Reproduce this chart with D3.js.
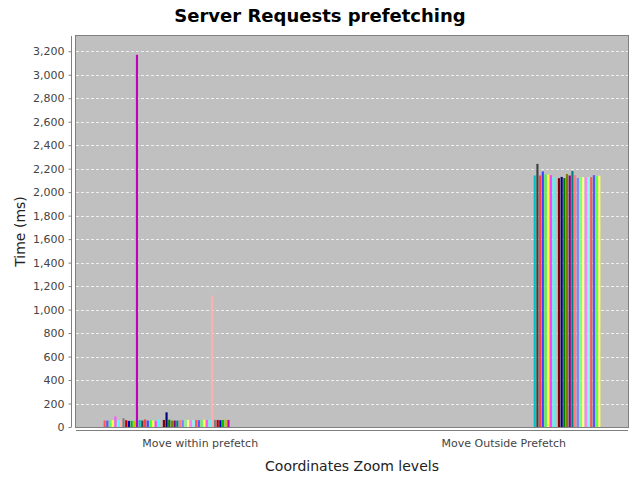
<!DOCTYPE html>
<html><head><meta charset="utf-8">
<script src="https://cdn.jsdelivr.net/npm/d3@7"></script>
<style>body{margin:0;background:#fff;}svg{display:block;}</style>
</head><body>
<svg id="chart" width="640" height="480"></svg>
<script>
const title = "Server Requests prefetching";
const yLabel = "Time (ms)";
const xLabel = "Coordinates Zoom levels";
const categories = ["Move within prefetch", "Move Outside Prefetch"];
const seriesNames = d3.range(72).map(i => "Run " + (i + 1));
// values for category 1 (series 0..46), category 2 (series 47..71)
const withinPrefetch = [55,55,55,58,90,58,60,75,58,52,52,50,3170,60,55,65,55,58,55,52,65,55,60,125,62,55,55,55,58,58,62,60,55,60,60,58,60,62,60,62,1120,60,60,58,60,62,60,
  null,null,null,null,null,null,null,null,null,null,null,null,null,null,null,null,null,null,null,null,null,null,null,null,null];
const outsidePrefetch = [null,null,null,null,null,null,null,null,null,null,null,null,null,null,null,null,null,null,null,null,null,null,null,null,null,null,null,null,null,null,null,null,null,null,null,null,null,null,null,null,null,null,null,null,null,null,null,
  2142,2241,2142,2176,2150,2150,2145,2130,2130,2119,2130,2120,2155,2142,2180,2145,2120,2128,2128,2128,2130,2128,2145,2135,2140];
const yTicks = [0,200,400,600,800,1000,1200,1400,1600,1800,2000,2200,2400,2600,2800,3000,3200];
const palette = ["#ff5555","#5555ff","#55ff55","#ffff55","#ff55ff","#55ffff","#ffafaf","#808080",
  "#c00000","#0000c0","#00c000","#c0c000","#c000c0","#00c0c0","#404040",
  "#ff4040","#4040ff","#40ff40","#ffff40","#ff40ff","#40ffff","#c0c0c0",
  "#800000","#000080","#008000","#808000","#800080","#008080",
  "#ff8080","#8080ff","#80ff80","#ffff80","#ff80ff","#80ffff"];

const svg = d3.select("#chart");
const L = 76, R = 628, T = 36, B = 427;
const W = R - L;
const font = "'DejaVu Sans', Verdana, sans-serif";

svg.append("text").attr("x", 320).attr("y", 22).attr("text-anchor", "middle")
  .style("font-family", font).style("font-weight", "bold").style("font-size", "18px").attr("fill", "#000").text(title);

svg.append("rect").attr("x", L).attr("y", T).attr("width", W).attr("height", B - T)
  .attr("fill", "#c0c0c0");

const y = d3.scaleLinear().domain([0, 3330]).range([B, T]);
const x0 = d3.scaleBand().domain(categories).range([L + 0.05 * W, R - 0.05 * W]).paddingInner(0.2 / 0.55).paddingOuter(0);
const x1 = d3.scaleBand().domain(d3.range(seriesNames.length)).range([0, x0.bandwidth()]).paddingInner(0.2).paddingOuter(0);

// gridlines
svg.append("g").selectAll("line").data(yTicks.slice(1)).join("line")
  .attr("x1", L).attr("x2", R).attr("y1", d => Math.round(y(d)) + 0.5).attr("y2", d => Math.round(y(d)) + 0.5)
  .attr("stroke", "#ffffff").attr("stroke-width", 1).attr("stroke-opacity", 0.75).attr("stroke-dasharray", "3,2");

const valuesByCat = [withinPrefetch, outsidePrefetch];
categories.forEach((c, ci) => {
  const vals = valuesByCat[ci];
  svg.append("g").selectAll("rect").data(vals.map((v, i) => ({v, i})).filter(d => d.v != null)).join("rect")
    .attr("x", d => x0(c) + x1(d.i))
    .attr("width", x1.bandwidth())
    .attr("y", d => y(d.v))
    .attr("height", d => B - y(d.v))
    .attr("fill", d => palette[d.i % palette.length]);
});

// plot outline
svg.append("rect").attr("x", L - 0.5).attr("y", T - 0.5).attr("width", W + 1).attr("height", B - T + 1)
  .attr("fill", "none").attr("stroke", "#808080").attr("stroke-width", 1);

// y axis
const yAxis = d3.axisLeft(y).tickValues(yTicks).tickFormat(d3.format(",")).tickSize(3).tickPadding(4);
const gy = svg.append("g").attr("transform", `translate(${L - 4.5},0)`).call(yAxis);
gy.select(".domain").attr("stroke", "#808080").attr("d", `M-0,${T}V${B}`);
gy.selectAll(".tick line").attr("stroke", "#808080");
gy.selectAll(".tick text").style("font-family", font).style("font-size", "11px").attr("fill", "#444");

// x axis
const xAxis = d3.axisBottom(x0).tickSize(0).tickPadding(9);
const gx = svg.append("g").attr("transform", `translate(0,${B + 3.5})`).call(xAxis);
gx.select(".domain").attr("stroke", "#808080").attr("d", `M${L},0H${R}`);
gx.selectAll(".tick text").style("font-family", font).style("font-size", "11px").attr("fill", "#444");

svg.append("text").attr("transform", `translate(25,${(T + B) / 2}) rotate(-90)`).attr("text-anchor", "middle")
  .style("font-family", font).style("font-size", "14px").attr("fill", "#222").text(yLabel);
svg.append("text").attr("x", (L + R) / 2).attr("y", 471).attr("text-anchor", "middle")
  .style("font-family", font).style("font-size", "14px").attr("fill", "#222").text(xLabel);
</script>
</body></html>
